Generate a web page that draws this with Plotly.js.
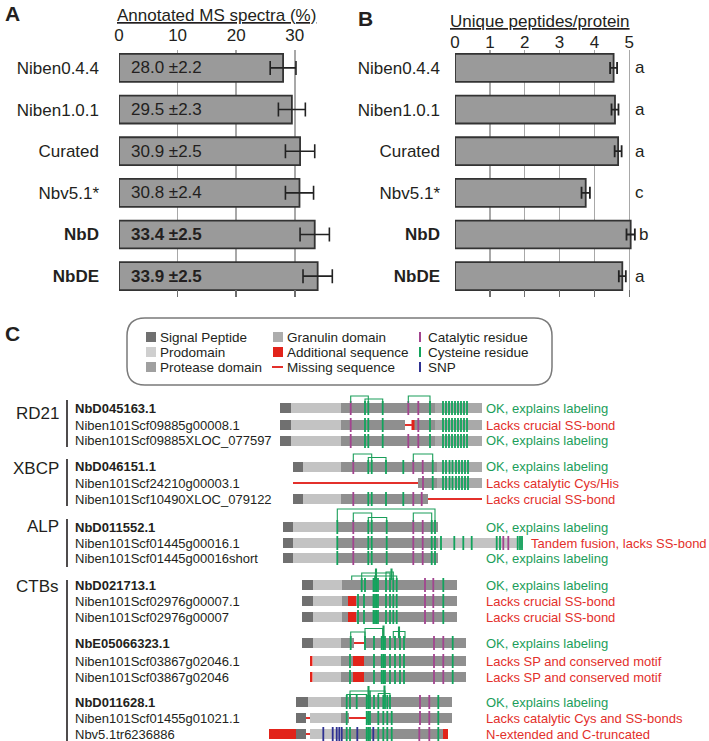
<!DOCTYPE html>
<html>
<head>
<meta charset="utf-8">
<script src="https://cdn.plot.ly/plotly-3.0.1.min.js"></script>
<style>body{margin:0;background:#fff}#chart{width:709px;height:741px}</style>
</head>
<body>
<div id="chart"></div>
<script>
// ---- panel A / B data ----
const genomes = ['Niben0.4.4', 'Niben1.0.1', 'Curated', 'Nbv5.1*', 'NbD', 'NbDE'];
const boldGenomes = ['NbD', 'NbDE'];
const msSpectra = [28.0, 29.5, 30.9, 30.8, 33.4, 33.9];
const msError = [2.2, 2.3, 2.5, 2.4, 2.5, 2.5];
const peptides = [4.55, 4.59, 4.68, 3.75, 5.04, 4.80];
const peptideError = [0.10, 0.10, 0.10, 0.12, 0.12, 0.10];
const letters = ['a', 'a', 'a', 'c', 'b', 'a'];

// ---- panel C data (positions along the protein schematic) ----
const families = ['RD21', 'XBCP', 'ALP', 'CTBs'];
const proteins = ['NbD045163.1', 'Niben101Scf09885g00008.1', 'Niben101Scf09885XLOC_077597',
  'NbD046151.1', 'Niben101Scf24210g00003.1', 'Niben101Scf10490XLOC_079122',
  'NbD011552.1', 'Niben101Scf01445g00016.1', 'Niben101Scf01445g00016short',
  'NbD021713.1', 'Niben101Scf02976g00007.1', 'Niben101Scf02976g00007',
  'NbE05066323.1', 'Niben101Scf03867g02046.1', 'Niben101Scf03867g02046',
  'NbD011628.1', 'Niben101Scf01455g01021.1', 'Nbv5.1tr6236886'];
const referenceModels = [0, 3, 6, 9, 12, 15];
const verdicts = ['OK, explains labeling', 'Lacks crucial SS-bond', 'OK, explains labeling',
  'OK, explains labeling', 'Lacks catalytic Cys/His', 'Lacks crucial SS-bond',
  'OK, explains labeling', 'Tandem fusion, lacks SS-bond', 'OK, explains labeling',
  'OK, explains labeling', 'Lacks crucial SS-bond', 'Lacks crucial SS-bond',
  'OK, explains labeling', 'Lacks SP and conserved motif', 'Lacks SP and conserved motif',
  'OK, explains labeling', 'Lacks catalytic Cys and SS-bonds', 'N-extended and C-truncated'];
const verdictOk = [1, 0, 1, 1, 0, 0, 1, 0, 1, 1, 0, 0, 1, 0, 0, 1, 0, 0];

const domains = [
  [[280, 291, 'SP'], [291, 341, 'Pro'], [341, 435, 'Prot'], [435, 482, 'Gran']],
  [[280, 291, 'SP'], [291, 341, 'Pro'], [341, 405, 'Prot'], [412, 435, 'Prot'], [435, 482, 'Gran'], [411.5, 414.5, 'Add']],
  [[280, 291, 'SP'], [291, 341, 'Pro'], [341, 435, 'Prot'], [435, 482, 'Gran']],
  [[293, 303, 'SP'], [303, 341, 'Pro'], [341, 437, 'Prot'], [437, 482, 'Gran']],
  [[418, 437, 'Prot'], [437, 482, 'Gran']],
  [[293, 303, 'SP'], [303, 341, 'Pro'], [341, 428, 'Prot']],
  [[283, 293, 'SP'], [293, 337, 'Pro'], [337, 438, 'Prot']],
  [[283, 293, 'SP'], [293, 337, 'Pro'], [337, 438, 'Prot'], [438, 523, 'Pro']],
  [[283, 293, 'SP'], [293, 337, 'Pro'], [337, 438, 'Prot']],
  [[302, 313, 'SP'], [313, 342, 'Pro'], [342, 457, 'Prot']],
  [[302, 313, 'SP'], [313, 342, 'Pro'], [342, 457, 'Prot'], [348, 356, 'Add']],
  [[302, 313, 'SP'], [313, 342, 'Pro'], [342, 457, 'Prot'], [348, 356, 'Add']],
  [[302, 313, 'SP'], [313, 341, 'Pro'], [341, 354, 'Prot'], [364, 466, 'Prot']],
  [[310, 312.5, 'Add'], [313, 341, 'Pro'], [341, 466, 'Prot'], [353, 364, 'Add']],
  [[310, 312.5, 'Add'], [313, 341, 'Pro'], [341, 466, 'Prot'], [353, 364, 'Add']],
  [[296, 308, 'SP'], [308, 341, 'Pro'], [341, 452, 'Prot']],
  [[296, 306, 'SP'], [310, 341, 'Pro'], [341, 349, 'Prot'], [366, 452, 'Prot']],
  [[269, 296, 'Add'], [296, 306, 'SP'], [310, 341, 'Pro'], [341, 443, 'Prot'], [443, 448, 'Add']]
];
const rd21Granulin = [443, 446, 449, 452, 455, 458, 461, 464, 467];
const xbcpGranulin = [443, 446, 449.5, 452.5, 456, 459, 462, 465, 468];
const cysteines = [
  [365, 368.3, 382.7, 430, ...rd21Granulin],
  [365, 368.3, 382.7, 430, ...rd21Granulin],
  [365, 368.3, 382.7, 430, ...rd21Granulin],
  [368.3, 371.7, 386, 403.3, 432.7, ...xbcpGranulin],
  [432.7, ...xbcpGranulin],
  [368.3, 371.7, 386, 403.3],
  [337.3, 368.3, 371.7, 386.7, 431.7, 435],
  [337.3, 368.3, 371.7, 386.7, 431.7, 435, 441, 454.3, 463.3, 471.7, 496.7, 500, 517.7, 520, 522],
  [337.3, 368.3, 371.7, 386.7, 431.7, 435],
  [361.7, 365, 373.5, 375, 376.5, 378, 386, 390, 393.3, 396.7, 443.3],
  [358, 364, 373.5, 375, 376.5, 378, 386, 390, 393.3, 396.7, 443.3],
  [358, 364, 373.5, 375, 376.5, 378, 386, 390, 393.3, 396.7, 443.3],
  [350.7, 365, 374, 381.7, 383.3, 385, 390, 395, 400, 404, 452.7],
  [350, 374, 381.7, 383.3, 385, 390, 395, 400, 404, 452.7],
  [350, 374, 381.7, 383.3, 385, 390, 395, 400, 404, 452.7],
  [346.7, 350, 356.7, 366.7, 368.3, 370, 374, 378.3, 383.3, 385, 387.3, 390, 438.3],
  [346.7, 366.7, 368.3, 370, 378.3, 383.3, 387.3, 391.7, 438.3],
  [346.7, 350, 366.7, 368.3, 370, 378.3, 383.3, 387.3, 391.7, 438.3]
];
const catalytic = [
  [350.7, 408.3, 418.3], [350.7, 418.3], [350.7, 408.3, 418.3],
  [353.3, 413.3, 422.7], [423], [353.3, 413.3, 421.7],
  [353.3, 413.3, 422.7], [353.3, 413.3, 422.7, 503.3, 508.3], [353.3, 413.3, 422.7],
  [425, 433.3], [425, 433.3], [425, 433.3],
  [434, 443.3], [434, 443.3], [434, 443.3],
  [420, 429.3], [420, 429.3], [419.3, 429.3]
];
const snps = [[], [], [], [], [], [], [], [], [], [], [], [], [], [], [], [], [],
  [323.3, 332.7, 336.7, 339.3, 341.7, 357.3, 373.3]];
const missing = [[], [[405, 412]], [], [], [[293, 418]], [[428, 482]], [], [], [], [], [], [],
  [[354, 364]], [], [], [], [[306, 310], [349, 366]], [[306, 310]]];
// disulfide bridges: [from, to, bracket top]
const bonds = [
  [[350.7, 368.3, 396], [365, 382.7, 399], [408.3, 430, 396]], [], [],
  [[353.3, 371.7, 454], [368.3, 386, 457.5], [413.3, 432.7, 454]], [], [],
  [[337.3, 435, 509], [353.3, 371.7, 513], [368.3, 386.7, 517.5], [413.3, 431.7, 513]], [], [],
  [[351.7, 375, 576], [361.7, 390, 573], [375, 396.7, 576], [386, 393.3, 572], [375.5, 376.5, 569], [391, 392, 569]], [], [],
  [[350.7, 365, 632], [365, 382.7, 628.5], [383, 384, 626], [393.3, 405, 631.5], [398.5, 399.5, 627]], [], [],
  [[346.7, 366.7, 694.5], [350, 370, 691], [368, 369, 686.5], [370, 385, 691], [384, 385, 686], [378.3, 390, 693.5]], [], []
];

// ---- layout helpers ----
const W = 709, H = 741;
const px = x => x / W, py = y => 1 - y / H;
const rowY = [408, 425, 441, 467, 483, 499, 527, 543, 558, 585, 601, 617, 643, 661, 677, 702, 718, 734];
const familyY = [413, 468, 526, 586];
const familySpan = [[400, 447], [459, 506], [519, 567], [580, 741]];

const FONT = 'Liberation Sans, Arial, sans-serif';
const INK = '#231f20';
const GREEN = '#1b9e5a', RED = '#e3302b';
const domainColors = {SP: '#707070', Pro: '#c3c3c3', Prot: '#8f8f8f', Gran: '#a9a9a9', Add: '#e2231a'};
const tickColors = {cys: '#12a35c', cat: '#a2448f', snp: '#2e3192'};

function labelText(g) {
  return boldGenomes.includes(g) ? '<b>' + g + '</b>' : g;
}

const data = [];

// Panel A
data.push({
  type: 'bar', orientation: 'h', x: msSpectra, y: genomes, xaxis: 'x', yaxis: 'y', width: 0.67,
  marker: {color: '#9a9a9a', line: {color: '#333', width: 1.8}},
  error_x: {type: 'data', array: msError, visible: true, color: '#222', thickness: 1.6, width: 7},
  hoverinfo: 'skip'
});
data.push({type: 'scatter', mode: 'markers', x: msSpectra, y: genomes, xaxis: 'x2', yaxis: 'y',
  marker: {opacity: 0}, hoverinfo: 'skip'});

// Panel B
data.push({
  type: 'bar', orientation: 'h', x: peptides, y: genomes, xaxis: 'x3', yaxis: 'y2', width: 0.67,
  marker: {color: '#9a9a9a', line: {color: '#333', width: 1.8}},
  error_x: {type: 'data', array: peptideError, visible: true, color: '#222', thickness: 1.8, width: 6},
  hoverinfo: 'skip'
});
data.push({type: 'scatter', mode: 'markers', x: peptides, y: genomes, xaxis: 'x4', yaxis: 'y2',
  marker: {opacity: 0}, hoverinfo: 'skip'});

// Panel C: domain blocks
['SP', 'Pro', 'Prot', 'Gran', 'Add'].forEach(kind => {
  const base = [], len = [], ys = [];
  domains.forEach((segs, r) => segs.forEach(s => {
    if (s[2] === kind) { base.push(s[0]); len.push(s[1] - s[0]); ys.push(rowY[r]); }
  }));
  data.push({type: 'bar', orientation: 'h', base: base, x: len, y: ys, width: 10,
    xaxis: 'x5', yaxis: 'y5', marker: {color: domainColors[kind], line: {width: 0}}, hoverinfo: 'skip'});
});

// missing sequence
const mx = [], my = [];
missing.forEach((segs, r) => segs.forEach(s => { mx.push(s[0], s[1], null); my.push(rowY[r], rowY[r], null); }));
data.push({type: 'scatter', mode: 'lines', x: mx, y: my, xaxis: 'x5', yaxis: 'y5',
  line: {color: RED, width: 2}, hoverinfo: 'skip'});

// residues
function residueTrace(list, color) {
  const xs = [], ys = [];
  list.forEach((pos, r) => pos.forEach(p => { xs.push(p); ys.push(rowY[r]); }));
  return {type: 'scatter', mode: 'markers', x: xs, y: ys, xaxis: 'x5', yaxis: 'y5',
    marker: {symbol: 'line-ns', size: 10, line: {color: color, width: 1.8}}, hoverinfo: 'skip'};
}
data.push(residueTrace(cysteines, tickColors.cys));
data.push(residueTrace(catalytic, tickColors.cat));
data.push(residueTrace(snps, tickColors.snp));

// disulfide brackets
const bx = [], by = [];
bonds.forEach((list, r) => list.forEach(b => {
  const top = rowY[r] - 5;
  bx.push(b[0], b[0], b[1], b[1], null);
  by.push(top, b[2], b[2], top, null);
}));
data.push({type: 'scatter', mode: 'lines', x: bx, y: by, xaxis: 'x5', yaxis: 'y5',
  line: {color: GREEN, width: 1.1}, hoverinfo: 'skip'});

// ---- annotations ----
const annotations = [];
function note(text, x, y, opts) {
  annotations.push(Object.assign({text: text, x: x, y: y, xref: 'paper', yref: 'paper', yanchor: 'middle',
    showarrow: false, font: {family: FONT, size: 17, color: INK}}, opts || {}));
}
note('<b>A</b>', px(3), py(14), {xanchor: 'left', font: {family: FONT, size: 21, color: INK}});
note('<b>B</b>', px(356), py(18), {xanchor: 'left', font: {family: FONT, size: 21, color: INK}});
note('<b>C</b>', px(3), py(333), {xanchor: 'left', font: {family: FONT, size: 21, color: INK}});
note('<u>Annotated MS spectra (%)</u>', px(216), py(16), {xanchor: 'center'});
note('<u>Unique peptides/protein</u>', px(540), py(21), {xanchor: 'center'});

genomes.forEach((g, i) => {
  const t = msSpectra[i].toFixed(1) + ' ±' + msError[i].toFixed(1);
  annotations.push({text: boldGenomes.includes(g) ? '<b>' + t + '</b>' : t, x: 0, y: g, xref: 'x', yref: 'y',
    xanchor: 'left', yanchor: 'middle', xshift: 10, showarrow: false, font: {family: FONT, size: 17, color: INK}});
  annotations.push({text: letters[i], x: Math.max(5.1, peptides[i] + peptideError[i] + 0.05), y: g,
    xref: 'x3', yref: 'y2', xanchor: 'left', yanchor: 'middle', showarrow: false,
    font: {family: FONT, size: 17, color: INK}});
});

// panel C text
families.forEach((f, i) => {
  note(f, px(61), py(familyY[i]), {xanchor: 'right', font: {family: FONT, size: 17, color: INK}});
});
proteins.forEach((p, r) => {
  note(referenceModels.includes(r) ? '<b>' + p + '</b>' : p, px(73), py(rowY[r]),
    {xanchor: 'left', font: {family: FONT, size: 13, color: INK}});
  note(verdicts[r], px(r === 7 ? 529 : 484), py(rowY[r]),
    {xanchor: 'left', font: {family: FONT, size: 13, color: verdictOk[r] ? GREEN : RED}});
});

// legend of panel C
const legendItems = [
  ['Signal Peptide', 'box', domainColors.SP], ['Prodomain', 'box', '#cfcfcf'], ['Protease domain', 'box', '#a0a0a0'],
  ['Granulin domain', 'box', '#adadad'], ['Additional sequence', 'box', domainColors.Add], ['Missing sequence', 'line', RED],
  ['Catalytic residue', 'tick', tickColors.cat], ['Cysteine residue', 'tick', tickColors.cys], ['SNP', 'tick', tickColors.snp]
];
const legendColX = [146, 273, 420];
const legendRowY = [337, 352, 367];
const shapes = [];
shapes.push({type: 'path', xref: 'x5', yref: 'y5', line: {color: '#7a7a7a', width: 1.5},
  path: 'M145,318 L534,318 Q552,318 552,336 L552,367 Q552,385 534,385 L145,385 Q127,385 127,367 L127,336 Q127,318 145,318 Z'});
legendItems.forEach((it, i) => {
  const cx = legendColX[Math.floor(i / 3)], cy = legendRowY[i % 3];
  if (it[1] === 'box') {
    shapes.push({type: 'rect', xref: 'x5', yref: 'y5', x0: cx, x1: cx + 10, y0: cy - 5, y1: cy + 5,
      fillcolor: it[2], line: {width: 0}});
  } else if (it[1] === 'line') {
    shapes.push({type: 'line', xref: 'x5', yref: 'y5', x0: cx - 1, x1: cx + 10, y0: cy, y1: cy,
      line: {color: it[2], width: 2}});
  } else {
    shapes.push({type: 'line', xref: 'x5', yref: 'y5', x0: cx, x1: cx, y0: cy - 5, y1: cy + 5,
      line: {color: it[2], width: 2}});
  }
  note(it[0], px(cx + (it[1] === 'tick' ? 6 : 12)), py(cy), {xanchor: 'left', font: {family: FONT, size: 13.5, color: INK}});
});
familySpan.forEach(s => shapes.push({type: 'line', xref: 'paper', yref: 'paper', x0: px(67), x1: px(67),
  y0: py(s[0]), y1: py(s[1]), line: {color: INK, width: 1.6}}));

// ---- axes ----
const catAxis = standoff => ({
  type: 'category', range: [5.5, -0.43], tickvals: genomes, ticktext: genomes.map(labelText),
  ticks: '', showgrid: false, zeroline: false, showline: false, ticklabelstandoff: standoff,
  tickfont: {family: FONT, size: 17, color: INK}, fixedrange: true
});
const valueAxis = (domain, range, vals) => ({
  domain: domain, range: range, tickvals: vals, showticklabels: false, ticks: 'inside', ticklen: 7,
  tickwidth: 1.5, tickcolor: '#6d6d6d', showgrid: true, gridcolor: '#a8a8a8', gridwidth: 1.5,
  zeroline: false, showline: false
});
const topAxis = (over, vals, standoff) => ({
  overlaying: over, matches: over, side: 'top', tickvals: vals, ticks: '', showgrid: false,
  zeroline: false, showline: false, ticklabelstandoff: standoff, tickfont: {family: FONT, size: 17, color: INK}
});

const layout = {
  width: W, height: H, margin: {l: 0, r: 0, t: 0, b: 0}, showlegend: false, barmode: 'overlay',
  paper_bgcolor: '#fff', plot_bgcolor: 'rgba(0,0,0,0)',
  xaxis: Object.assign(valueAxis([px(119), px(337)], [0, 37.2], [0, 10, 20, 30]), {anchor: 'y'}),
  xaxis2: Object.assign(topAxis('x', [0, 10, 20, 30], 5), {anchor: 'y'}),
  yaxis: Object.assign(catAxis(19), {domain: [py(297), py(50)], anchor: 'x'}),
  xaxis3: Object.assign(valueAxis([px(455), px(638)], [0, 5.25], [0, 1, 2, 3, 4, 5]), {anchor: 'y2'}),
  xaxis4: Object.assign(topAxis('x3', [0, 1, 2, 3, 4, 5], -2), {anchor: 'y2'}),
  yaxis2: Object.assign(catAxis(14), {domain: [py(297), py(50)], anchor: 'x3'}),
  xaxis5: {domain: [0, 1], range: [0, W], visible: false, anchor: 'y5', fixedrange: true},
  yaxis5: {domain: [0, 1], range: [H, 0], visible: false, anchor: 'x5', fixedrange: true},
  annotations: annotations,
  shapes: shapes
};

Plotly.newPlot('chart', data, layout, {staticPlot: true});
</script>
</body>
</html>
